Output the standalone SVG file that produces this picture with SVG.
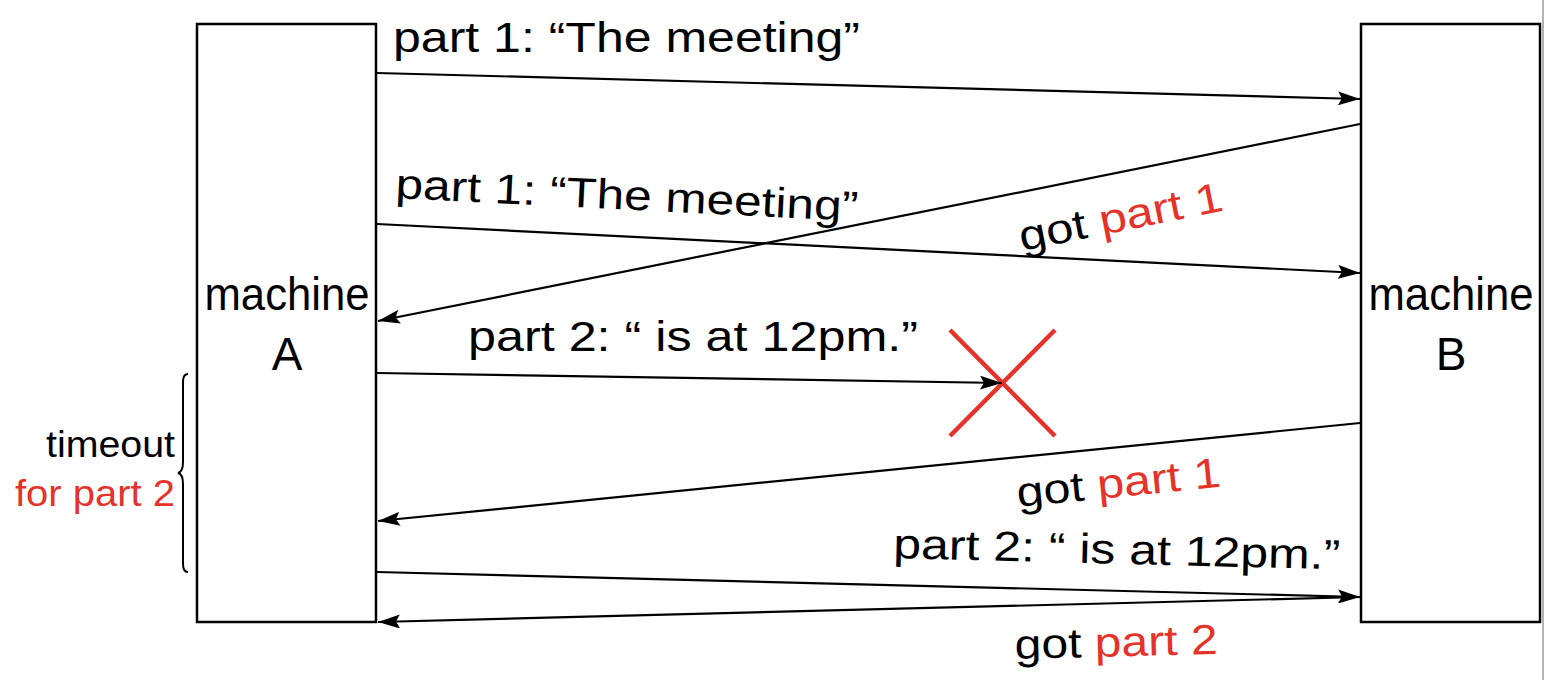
<svg xmlns="http://www.w3.org/2000/svg" width="1546" height="680" viewBox="0 0 1546 680">
<style>
  .box { fill: #ffffff; stroke: #000000; stroke-width: 2.5; }
  .conn { stroke: #000000; stroke-width: 2.2; fill: none; marker-end: url(#ah); }
  .lbl { font-family: "Liberation Sans", "DejaVu Sans", sans-serif; font-size: 42px; fill: #000000; }
  .big { font-family: "Liberation Sans", "DejaVu Sans", sans-serif; font-size: 46px; fill: #000000; }
  .side { font-family: "Liberation Sans", "DejaVu Sans", sans-serif; font-size: 37px; fill: #000000; }
  .red { fill: #e5322a; }
  .cross { stroke: #e5322a; stroke-width: 4.5; fill: none; }
</style>
<defs>
  <marker id="ah" viewBox="0 0 22 14" refX="22" refY="7" markerWidth="22" markerHeight="14" markerUnits="userSpaceOnUse" orient="auto">
    <path d="M0,0 L22,7 L0,14 L4,7 Z" fill="#000000"/>
  </marker>
</defs>
<rect width="1546" height="680" fill="#ffffff"/>
<line x1="1543" y1="0" x2="1543" y2="680" stroke="#9a9a9a" stroke-width="1.5"/>

<g id="machineA">
  <rect class="box" x="197" y="24" width="179" height="598"/>
  <text class="big" x="287" y="310" text-anchor="middle" textLength="165" lengthAdjust="spacingAndGlyphs">machine</text>
  <text class="big" x="287" y="370" text-anchor="middle">A</text>
</g>

<g id="machineB">
  <rect class="box" x="1361" y="24" width="179" height="598"/>
  <text class="big" x="1451" y="310" text-anchor="middle" textLength="165" lengthAdjust="spacingAndGlyphs">machine</text>
  <text class="big" x="1451" y="370" text-anchor="middle">B</text>
</g>

<g id="timeout">
  <path d="M188,374 Q183,374 183,382 L183,462 Q183,472 178,473 Q183,474 183,484 L183,564 Q183,572 188,572" fill="none" stroke="#000000" stroke-width="2"/>
  <text class="side" x="175" y="457" text-anchor="end" textLength="129" lengthAdjust="spacingAndGlyphs">timeout</text>
  <text class="side red" x="175" y="506" text-anchor="end" textLength="160" lengthAdjust="spacingAndGlyphs">for part 2</text>
</g>

<g id="lost">
  <line class="cross" x1="950" y1="330" x2="1055" y2="436"/>
  <line class="cross" x1="950" y1="436" x2="1055" y2="330"/>
</g>

<g id="connectors">
  <line class="conn" x1="377" y1="73" x2="1360" y2="99"/>
  <line class="conn" x1="1360" y1="124" x2="378" y2="321"/>
  <line class="conn" x1="377" y1="224" x2="1360" y2="273"/>
  <line class="conn" x1="377" y1="373" x2="1002" y2="383"/>
  <line class="conn" x1="1360" y1="423" x2="378" y2="521"/>
  <line class="conn" x1="377" y1="572" x2="1360" y2="597"/>
  <line class="conn" x1="1360" y1="597" x2="378" y2="622"/>
</g>

<g id="labels">
  <text class="lbl" x="393" y="52" textLength="467" lengthAdjust="spacingAndGlyphs">part 1: “The meeting”</text>
  <text class="lbl" x="395" y="198" transform="rotate(2.85 395 198)" textLength="463" lengthAdjust="spacingAndGlyphs">part 1: “The meeting”</text>
  <text class="lbl" x="1022" y="251" transform="rotate(-11.33 1022 251)" textLength="207" lengthAdjust="spacingAndGlyphs">got <tspan class="red">part 1</tspan></text>
  <text class="lbl" x="468" y="351" textLength="450" lengthAdjust="spacingAndGlyphs">part 2: “ is at 12pm.”</text>
  <text class="lbl" x="1018" y="507" transform="rotate(-5.69 1018 507)" textLength="205" lengthAdjust="spacingAndGlyphs">got <tspan class="red">part 1</tspan></text>
  <text class="lbl" x="893" y="558" transform="rotate(1.46 893 558)" textLength="447" lengthAdjust="spacingAndGlyphs">part 2: “ is at 12pm.”</text>
  <text class="lbl" x="1015" y="659" transform="rotate(-1.46 1015 659)" textLength="203" lengthAdjust="spacingAndGlyphs">got <tspan class="red">part 2</tspan></text>
</g>
</svg>
